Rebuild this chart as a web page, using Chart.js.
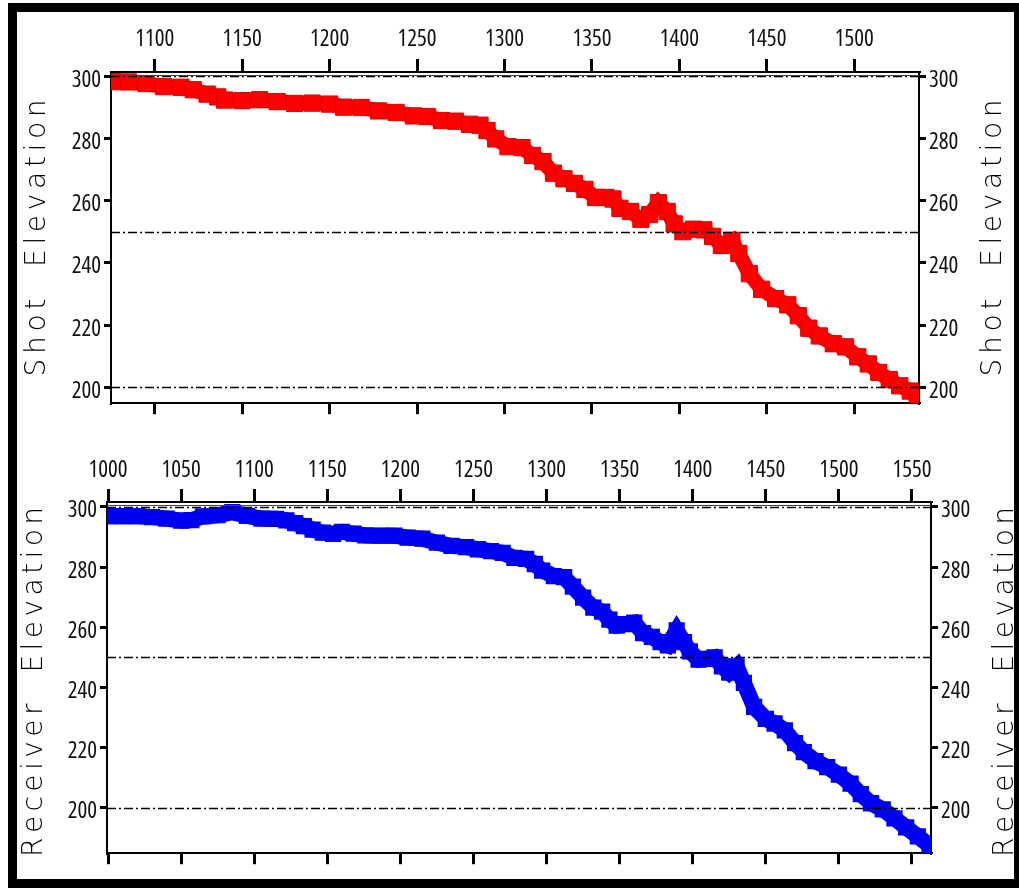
<!DOCTYPE html>
<html>
<head>
<meta charset="utf-8">
<script src="https://cdn.jsdelivr.net/npm/chart.js@4.4.0/dist/chart.umd.min.js"></script>
<style>
    html, body { margin: 0; padding: 0; background: #fff; }
    body { width: 1019px; height: 892px; position: relative; overflow: hidden; }
    #frame { position: absolute; left: 8px; top: 3px; width: 1011px; height: 885px; box-sizing: border-box;
             border: 9px solid #000; border-right-width: 5px; }
    canvas { position: absolute; left: 0; }
    #shotChart { top: 0; }
    #recvChart { top: 430px; }
</style>
</head>
<body>
<div id="frame"></div>
<canvas id="shotChart" width="1019" height="420"></canvas>
<canvas id="recvChart" width="1019" height="440"></canvas>
<script>
// shot stations and elevations (red panel)
const shotStation = [1076, 1085, 1095, 1105, 1115, 1122, 1130, 1136, 1140, 1150, 1160, 1170, 1180, 1190, 1200,
    1208, 1218, 1228, 1238, 1248, 1256, 1264, 1272, 1280, 1286, 1290, 1295, 1302, 1310, 1316, 1322, 1328,
    1334, 1340, 1346, 1352, 1358, 1362, 1366, 1372, 1378, 1383, 1388, 1393, 1397, 1402, 1408, 1414, 1419,
    1424, 1430, 1434, 1440, 1447, 1455, 1462, 1468, 1474, 1480, 1488, 1495, 1502, 1508, 1514, 1520, 1526,
    1532, 1536];
const shotElevation = [298.2, 298.1, 297.6, 296.6, 296.4, 295.6, 294.2, 293.3, 292.3, 292.1, 292.4, 291.8,
    291.2, 291.3, 291.0, 290.0, 289.9, 288.8, 288.3, 287.2, 287.0, 285.7, 285.5, 284.5, 284.2, 282.5, 279.8,
    277.3, 277.0, 274.5, 272.5, 268.8, 267.0, 265.5, 263.6, 261.0, 261.0, 260.5, 257.5, 256.5, 254.0, 255.5,
    259.3, 256.5, 252.5, 250.0, 250.8, 250.6, 248.5, 245.6, 247.2, 243.0, 236.5, 231.5, 228.5, 226.5, 223.0,
    219.0, 216.5, 214.0, 213.0, 209.8, 207.5, 204.8, 202.5, 200.5, 198.8, 197.5];

// receiver stations and elevations (blue panel)
const recvStation = [1000, 1010, 1020, 1030, 1040, 1050, 1057, 1065, 1075, 1085, 1095, 1105, 1115, 1122, 1128,
    1134, 1140, 1147, 1154, 1160, 1168, 1176, 1186, 1196, 1205, 1215, 1225, 1235, 1245, 1253, 1262, 1270,
    1278, 1286, 1292, 1297, 1305, 1312, 1318, 1325, 1332, 1338, 1343, 1348, 1354, 1360, 1366, 1372, 1378,
    1383, 1389, 1394, 1398, 1404, 1410, 1415, 1420, 1425, 1430, 1435, 1442, 1450, 1456, 1463, 1470, 1476,
    1484, 1492, 1500, 1508, 1515, 1522, 1530, 1538, 1546, 1554, 1562];
const recvElevation = [296.9, 296.9, 296.9, 296.6, 296.1, 295.4, 295.6, 296.8, 297.2, 298.2, 297.0, 296.1,
    296.0, 295.5, 294.6, 293.6, 292.4, 291.4, 291.0, 291.7, 291.1, 290.5, 290.4, 290.4, 289.8, 289.4, 288.1,
    287.0, 286.6, 285.9, 285.3, 284.7, 283.0, 282.7, 281.0, 278.8, 277.0, 276.6, 273.5, 269.8, 266.5, 265.2,
    262.5, 260.5, 261.0, 261.5, 258.0, 256.8, 255.0, 254.0, 258.9, 255.0, 252.0, 249.2, 249.5, 250.0, 247.0,
    244.9, 247.0, 241.5, 233.5, 229.5, 228.0, 225.7, 221.5, 218.5, 215.5, 213.5, 211.0, 208.0, 204.5, 201.5,
    199.5, 196.5, 193.5, 190.5, 187.5];

const shotAxisTicks = [1100, 1150, 1200, 1250, 1300, 1350, 1400, 1450, 1500];
const recvAxisTicks = [1000, 1050, 1100, 1150, 1200, 1250, 1300, 1350, 1400, 1450, 1500, 1550];
const elevTicks = [200, 220, 240, 260, 280, 300];
const refLevels = [200, 250, 300];

// condensed Open Sans for the narrow tick numbers
const tickFont = { family: '"Open Sans", "DejaVu Sans", sans-serif', size: 23, weight: 'condensed' };

// dash-dot reference lines and the doubled top frame line
const refLines = {
    id: 'refLines',
    afterDatasetsDraw(chart) {
        const { ctx, chartArea: a, scales: { y } } = chart;
        ctx.save();
        ctx.strokeStyle = '#000';
        ctx.lineWidth = 1.5;
        ctx.setLineDash([9, 3, 2, 3]);
        refLevels.forEach(v => {
            const py = Math.round(y.getPixelForValue(v)) + 0.5;
            ctx.beginPath();
            ctx.moveTo(a.left, py);
            ctx.lineTo(a.right, py);
            ctx.stroke();
        });
        ctx.setLineDash([]);
        ctx.lineWidth = 1;
        ctx.strokeStyle = '#444';
        ctx.beginPath();
        ctx.moveTo(a.left, a.top + 3.5);
        ctx.lineTo(a.right, a.top + 3.5);
        ctx.stroke();
        ctx.restore();
    }
};

// rotated, letter-spaced side titles
function sideTitles(text, length, centers) {
    return {
        id: 'sideTitles',
        afterDraw(chart) {
            const ctx = chart.ctx;
            ctx.save();
            ctx.font = '200 28px "DejaVu Sans", sans-serif';
            ctx.fillStyle = '#000';
            ctx.textBaseline = 'middle';
            const chars = Array.from(text);
            const widths = chars.map(c => ctx.measureText(c).width);
            const sum = widths.reduce((s, w) => s + w, 0);
            const gap = (length - sum) / (chars.length - 1);
            centers.forEach(([cx, cy]) => {
                ctx.save();
                ctx.translate(cx, cy);
                ctx.rotate(-Math.PI / 2);
                let x = -length / 2;
                chars.forEach((c, i) => {
                    ctx.fillText(c, x, 0);
                    x += widths[i] + gap;
                });
                ctx.restore();
            });
            ctx.restore();
        }
    };
}

function xAxis(position, min, max, tickValues, height, showLabels, padding) {
    return {
        type: 'linear',
        position: position,
        min: min,
        max: max,
        afterBuildTicks: axis => { axis.ticks = tickValues.map(v => ({ value: v })); },
        afterFit: axis => { axis.height = height; },
        border: { color: '#000', width: 2 },
        grid: { drawOnChartArea: false, color: '#000', lineWidth: 3, tickLength: position === 'top' ? 13 : 11 },
        ticks: {
            display: showLabels,
            autoSkip: false,
            maxRotation: 0,
            padding: padding,
            color: '#111',
            font: tickFont,
            callback: v => String(v)
        }
    };
}

function yAxis(position, min, max) {
    return {
        type: 'linear',
        position: position,
        min: min,
        max: max,
        afterBuildTicks: axis => { axis.ticks = elevTicks.map(v => ({ value: v })); },
        afterFit: axis => { axis.width = 51; },
        border: { color: '#000', width: 2 },
        grid: { drawOnChartArea: false, color: '#000', lineWidth: 3, tickLength: 7 },
        ticks: {
            padding: 3,
            labelOffset: 4,
            color: '#111',
            font: tickFont,
            callback: v => String(v)
        }
    };
}

function makePanel(canvasId, cfg) {
    const points = cfg.stations.map((s, i) => ({ x: s, y: cfg.elevations[i] }));
    return new Chart(document.getElementById(canvasId), {
        type: 'line',
        data: {
            datasets: [Object.assign({
                data: points,
                xAxisID: 'x',
                yAxisID: 'y',
                borderJoinStyle: 'miter',
                tension: 0
            }, cfg.style)]
        },
        options: {
            responsive: false,
            animation: false,
            events: [],
            layout: { padding: cfg.padding },
            plugins: { legend: { display: false }, tooltip: { enabled: false } },
            scales: {
                x: xAxis('top', cfg.xMin, cfg.xMax, cfg.xTicks, 58, true, cfg.labelPad),
                x2: xAxis('bottom', cfg.xMin, cfg.xMax, cfg.xTicks, cfg.bottomHeight, false, 0),
                y: yAxis('left', cfg.yMin, cfg.yMax),
                y2: yAxis('right', cfg.yMin, cfg.yMax)
            }
        },
        plugins: [refLines, sideTitles(cfg.title, cfg.titleLength, cfg.titleCenters)]
    });
}

makePanel('shotChart', {
    stations: shotStation,
    elevations: shotElevation,
    xMin: 1075, xMax: 1537, xTicks: shotAxisTicks,
    yMin: 194.9, yMax: 301.3,
    padding: { left: 60, right: 49, top: 14, bottom: 4 },
    bottomHeight: 12,
    labelPad: 6,
    title: 'Shot  Elevation',
    titleLength: 277,
    titleCenters: [[38, 238], [994, 238]],
    style: {
        borderColor: '#ff0000',
        borderWidth: 15,
        pointStyle: 'rect',
        pointRadius: 11.5,
        pointBackgroundColor: '#ff0000',
        pointBorderColor: '#e00000',
        pointBorderWidth: 1
    }
});

makePanel('recvChart', {
    stations: recvStation,
    elevations: recvElevation,
    xMin: 999.3, xMax: 1563, xTicks: recvAxisTicks,
    yMin: 184.9, yMax: 301.6,
    padding: { left: 56, right: 37, top: 14, bottom: 2 },
    bottomHeight: 11,
    labelPad: 5,
    title: 'Receiver  Elevation',
    titleLength: 350,
    titleCenters: [[35, 252], [1006, 252]],
    style: {
        borderColor: '#0000f5',
        borderWidth: 16,
        pointStyle: 'rect',
        pointRadius: 11.5,
        pointBackgroundColor: '#0000f5',
        pointBorderWidth: 0
    }
});
</script>
</body>
</html>
